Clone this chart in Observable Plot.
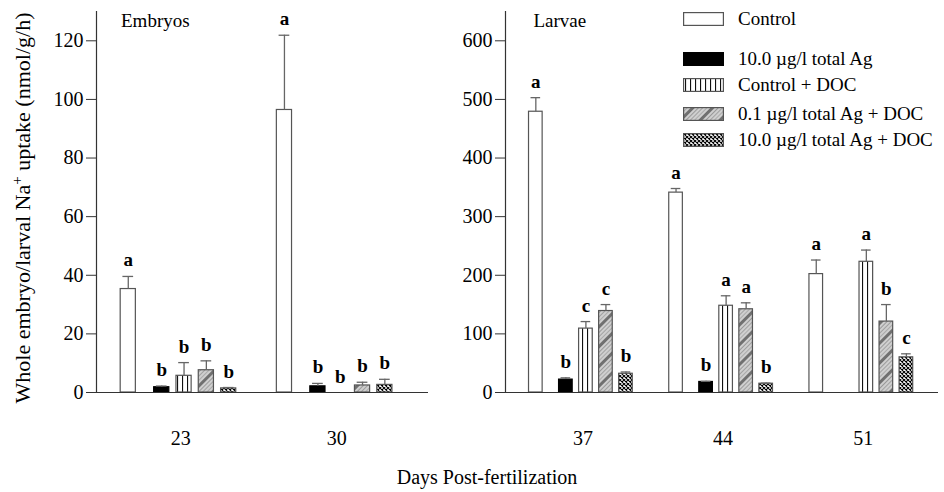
<!DOCTYPE html>
<html><head><meta charset="utf-8">
<script src="https://cdn.jsdelivr.net/npm/d3@7"></script>
<script src="https://cdn.jsdelivr.net/npm/@observablehq/plot@0.6"></script>
<style>
body{margin:0;background:#fff;font-family:"Liberation Serif","Times New Roman",Times,serif;color:#000;}
#wrap{position:relative;width:944px;height:492px;overflow:hidden;background:#fff;}
#left{position:absolute;left:0;top:0;}
#right{position:absolute;left:440px;top:0;}
#ylab{position:absolute;left:23px;top:208px;transform:translate(-50%,-50%) rotate(-90deg);white-space:nowrap;font-size:22px;}
#ylab sup{font-size:15px;vertical-align:0.55em;line-height:0;}
#xlab{position:absolute;left:487px;top:466px;transform:translateX(-50%);white-space:nowrap;font-size:20px;}
.lrow{position:absolute;left:683px;height:20px;display:flex;align-items:center;white-space:nowrap;font-size:19px;}
.lrow svg{margin-right:14px;}
</style></head><body>
<svg width="0" height="0" style="position:absolute">
<defs>
<pattern id="vstripe" patternUnits="userSpaceOnUse" width="5" height="10">
<rect width="5" height="10" fill="#fff"/>
<rect x="2" width="1.1" height="10" fill="#111"/>
</pattern>
<pattern id="hatch" patternUnits="userSpaceOnUse" width="14" height="14" patternTransform="rotate(45)">
<rect width="14" height="14" fill="#cfcfcf"/>
<rect x="0" width="1" height="14" fill="#a0a0a0"/>
<rect x="3" width="1" height="14" fill="#aaaaaa"/>
<rect x="6" width="3" height="14" fill="#707070"/>
<rect x="11" width="1" height="14" fill="#999999"/>
</pattern>
<pattern id="cross" patternUnits="userSpaceOnUse" width="4" height="4">
<rect width="4" height="4" fill="#fff"/>
<path d="M0,0L4,4M4,0L0,4" stroke="#000" stroke-width="1.1"/>
</pattern>
</defs>
</svg>
<div id="wrap">
<div id="left"></div>
<div id="right"></div>
<div id="ylab">Whole embryo/larval Na<sup>+</sup> uptake (nmol/g/h)</div>
<div id="xlab">Days Post-fertilization</div>
<div id="legend"></div>
</div>
<script>
// ---- data ----
const series = ["Control", "10.0 µg/l total Ag", "Control + DOC", "0.1 µg/l total Ag + DOC", "10.0 µg/l total Ag + DOC"];
const embryoDays = [23, 30];
const embryoMeans = [[35.3, 1.8, 5.7, 7.6, 1.4], [96.4, 2.1, 0, 2.4, 2.6]];
const embryoErrors = [[4.3, 0.4, 4.5, 3.2, 0.3], [25.5, 1.0, 0, 1.1, 1.9]];
const embryoLetters = [["a", "b", "b", "b", "b"], ["a", "b", "b", "b", "b"]];
const larvaeDays = [37, 44, 51];
const larvaeMeans = [[479, 22, 109, 139, 32], [341, 18, 148, 142, 15], [202, null, 223, 121, 60]];
const larvaeErrors = [[24, 3, 12, 11, 3], [7, 1, 17, 11, 1], [24, null, 20, 29, 6]];
const larvaeLetters = [["a", "b", "c", "c", "b"], ["a", "b", "a", "a", "b"], ["a", null, "a", "b", "c"]];
const embryoYTicks = [0, 20, 40, 60, 80, 100, 120];
const larvaeYTicks = [0, 100, 200, 300, 400, 500, 600];

// ---- layout / style config ----
const FONT = "'Liberation Serif', 'Times New Roman', Times, serif";
const slotOffset = [-2.35, -0.85, 0.15, 1.15, 2.15];
const halfW = 0.34, capHalf = 0.24;
const fills = ["#fff", "#000", "url(#vstripe)", "url(#hatch)", "url(#cross)"];
const strokes = ["#555", "#000", "#555", "#555", "#555"];
const legendCenters = [19, 58.5, 85, 113.5, 140];

function panel({days, means, errs, letters, yDomain, yTicks, xDomain, width, marginLeft, marginRight, title, titleDx}) {
  const rows = [];
  days.forEach((day, i) => series.forEach((s, j) => {
    if (means[i][j] == null) return;
    rows.push({day, s, j, mean: means[i][j], err: errs[i][j], letter: letters[i][j]});
  }));
  const pos = d => d.day + slotOffset[d.j];
  const withErr = rows.filter(d => d.err > 0);
  return Plot.plot({
    width, height: 460, marginLeft, marginRight, marginTop: 11, marginBottom: 68,
    style: {fontFamily: FONT, fontSize: "20px", color: "#000", background: "#fff", overflow: "visible"},
    x: {domain: xDomain, axis: null},
    y: {domain: yDomain, axis: null},
    color: {type: "identity"},
    marks: [
      Plot.rectY(rows.filter(d => d.mean > 0), {x1: d => pos(d) - halfW, x2: d => pos(d) + halfW, y1: 0, y2: "mean",
        fill: d => fills[d.j], stroke: d => strokes[d.j], strokeWidth: 1.2}),
      Plot.ruleX(withErr, {x: pos, y1: "mean", y2: d => d.mean + d.err, stroke: "#666", strokeWidth: 1.3}),
      Plot.ruleY(withErr, {y: d => d.mean + d.err, x1: d => pos(d) - capHalf, x2: d => pos(d) + capHalf, stroke: "#666", strokeWidth: 1.3}),
      Plot.text(rows.filter(d => d.letter), {x: pos, y: d => d.mean + d.err, text: "letter", lineAnchor: "bottom",
        dy: -10, fontWeight: "bold", fontSize: 19, fill: "#000", fontFamily: FONT}),
      Plot.ruleY([0], {stroke: "#333", strokeWidth: 1.2}),
      Plot.frame({anchor: "left", stroke: "#333", strokeWidth: 1.2}),
      Plot.axisY({ticks: yTicks, tickSize: 10, tickPadding: 3, fontSize: 20, label: null, stroke: "#333", fontFamily: FONT}),
      Plot.axisX({ticks: days, tickSize: 0, tickPadding: 38, fontSize: 20, label: null, tickFormat: d => String(d), fontFamily: FONT}),
      Plot.text([title], {frameAnchor: "top-left", dx: titleDx, dy: 1.5, lineAnchor: "top", fontSize: 19, fill: "#000", fontFamily: FONT})
    ]
  });
}

document.getElementById("left").appendChild(panel({
  days: embryoDays, means: embryoMeans, errs: embryoErrors, letters: embryoLetters,
  yDomain: [0, 130], yTicks: embryoYTicks, xDomain: [19.226, 34.107],
  width: 440, marginLeft: 96, marginRight: 12, title: "Embryos", titleDx: 24.5
}));
document.getElementById("right").appendChild(panel({
  days: larvaeDays, means: larvaeMeans, errs: larvaeErrors, letters: larvaeLetters,
  yDomain: [0, 650], yTicks: larvaeYTicks, xDomain: [33.136, 54.753],
  width: 504, marginLeft: 65, marginRight: 6, title: "Larvae", titleDx: 28
}));

// legend
const legend = document.getElementById("legend");
series.forEach((s, j) => {
  const row = document.createElement("div");
  row.className = "lrow";
  row.style.top = (legendCenters[j] - 10) + "px";
  row.innerHTML = `<svg width="41" height="14"><rect x="0.6" y="0.6" width="39.8" height="12.8" fill="${fills[j]}" stroke="${strokes[j]}" stroke-width="1.2"/></svg><span>${s}</span>`;
  legend.appendChild(row);
});
</script>
</body></html>
